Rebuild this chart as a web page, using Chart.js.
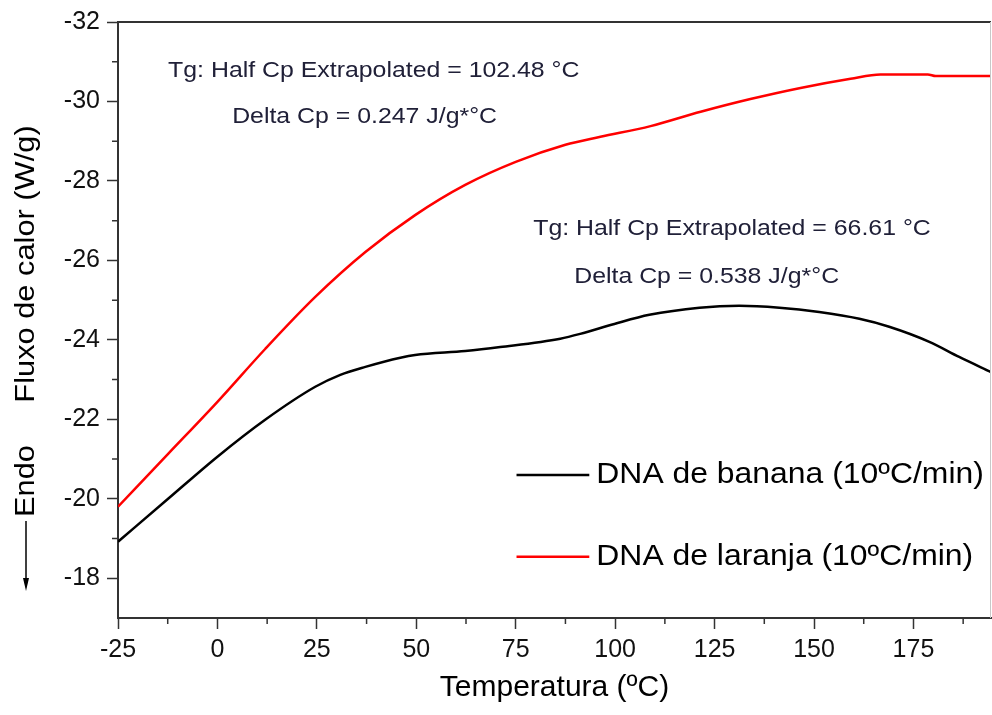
<!DOCTYPE html>
<html>
<head>
<meta charset="utf-8">
<script src="https://cdn.jsdelivr.net/npm/chart.js@4.4.1/dist/chart.umd.min.js"></script>
<style>
  html, body { margin: 0; padding: 0; background: #fff; }
  #wrap { width: 992px; height: 715px; }
</style>
</head>
<body>
<div id="wrap"><canvas id="dsc"></canvas></div>
<script>
// DSC curves (temperature in ºC, heat flow in W/g)
const tempBanana = [-25, -12.4, 0, 12, 24.6, 30.9, 37.2, 46, 49.7, 62.3, 71.1, 86.2, 91.2, 99.8, 108.6, 121.2, 131.2, 141.3, 151.3, 161.4, 168.9, 179, 186.5, 194.5]
const fluxBanana = [-18.92, -20.0, -21.06, -21.99, -22.82, -23.12, -23.32, -23.55, -23.62, -23.72, -23.82, -24.03, -24.15, -24.4, -24.63, -24.81, -24.86, -24.81, -24.7, -24.53, -24.33, -23.95, -23.57, -23.19]

const tempLaranja = [-25, -12.4, 0, 12, 24.6, 37.2, 49.7, 62.3, 75, 87.5, 96.3, 108.9, 121.5, 134, 146.6, 159.2, 166.7, 178.6, 180.6, 194.5]
const fluxLaranja = [-19.8, -21.13, -22.44, -23.77, -25.08, -26.21, -27.14, -27.9, -28.48, -28.91, -29.11, -29.38, -29.74, -30.06, -30.34, -30.57, -30.68, -30.68, -30.64, -30.64]

const seriesNames = ['DNA de banana (10ºC/min)', 'DNA de laranja (10ºC/min)']
const seriesColors = ['#000000', '#ff0000']

const xTicks = [-25, 0, 25, 50, 75, 100, 125, 150, 175]
const xMinorTicks = [-12.5, 12.5, 37.5, 62.5, 87.5, 112.5, 137.5, 162.5, 187.5]
const yTicks = [-32, -30, -28, -26, -24, -22, -20, -18]
const yMinorTicks = [-31, -29, -27, -25, -23, -21, -19]

// annotation texts, placed in data units [x, y]
const notes = [
    { text: 'Tg: Half Cp Extrapolated = 102.48 °C', at: [-12.4, -30.78] },
    { text: 'Delta Cp = 0.247 J/g*°C', at: [3.7, -29.62] },
    { text: 'Tg: Half Cp Extrapolated = 66.61 °C', at: [79.4, -26.8] },
    { text: 'Delta Cp = 0.538 J/g*°C', at: [89.7, -25.58] }
]

function toPoints(xs, ys) {
    let pts = []
    for (let i = 0; i < xs.length; i++) {
        pts.push({ x: xs[i], y: ys[i] })
    }
    return pts
}

function stretchedText(ctx, text, x, y, font, sx, color, align) {
    ctx.save()
    ctx.translate(x, y)
    ctx.scale(sx, 1)
    ctx.font = font
    ctx.fillStyle = color
    ctx.textAlign = align || 'left'
    ctx.textBaseline = 'middle'
    ctx.fillText(text, 0, 0)
    ctx.restore()
}

const decorations = {
    id: 'decorations',
    afterDraw(chart) {
        const ctx = chart.ctx
        const area = chart.chartArea
        const xs = chart.scales.x
        const ys = chart.scales.y

        // frame: top dark, right light
        ctx.save()
        ctx.strokeStyle = '#333'
        ctx.lineWidth = 2
        ctx.beginPath()
        ctx.moveTo(area.left, area.top)
        ctx.lineTo(area.right, area.top)
        ctx.stroke()
        ctx.strokeStyle = '#c8c8c8'
        ctx.lineWidth = 1
        ctx.beginPath()
        ctx.moveTo(area.right - 0.5, area.top)
        ctx.lineTo(area.right - 0.5, area.bottom)
        ctx.stroke()

        // minor ticks
        ctx.strokeStyle = '#333'
        ctx.lineWidth = 1.5
        ctx.beginPath()
        yMinorTicks.forEach(v => {
            const py = ys.getPixelForValue(v)
            ctx.moveTo(area.left - 6, py)
            ctx.lineTo(area.left, py)
        })
        xMinorTicks.forEach(v => {
            const px = xs.getPixelForValue(v)
            ctx.moveTo(px, area.bottom)
            ctx.lineTo(px, area.bottom + 6)
        })
        ctx.stroke()
        ctx.restore()

        // annotations
        notes.forEach(n => {
            stretchedText(ctx, n.text, xs.getPixelForValue(n.at[0]), ys.getPixelForValue(n.at[1]),
                '22px "Liberation Sans", Arial, sans-serif', 1.13, '#202038')
        })

        // legend inside the plot
        const legendRows = [-20.6, -18.54]
        chart.data.datasets.forEach((ds, i) => {
            const py = ys.getPixelForValue(legendRows[i])
            const x0 = xs.getPixelForValue(75.2)
            const x1 = xs.getPixelForValue(93.5)
            ctx.save()
            ctx.strokeStyle = ds.borderColor
            ctx.lineWidth = 2.5
            ctx.beginPath()
            ctx.moveTo(x0, py)
            ctx.lineTo(x1, py)
            ctx.stroke()
            ctx.restore()
            stretchedText(ctx, ds.label, x1 + 7, py, '29px "Liberation Sans", Arial, sans-serif', 1.1, '#000')
        })

        // y axis title with Endo arrow
        ctx.save()
        ctx.translate(26, 0)
        ctx.rotate(-Math.PI / 2)
        ctx.scale(1.1, 1)
        ctx.font = '28px "Liberation Sans", Arial, sans-serif'
        ctx.fillStyle = '#000'
        ctx.textAlign = 'center'
        ctx.textBaseline = 'middle'
        ctx.fillText('Fluxo de calor (W/g)', -264 / 1.1, 0)
        ctx.fillText('Endo', -481 / 1.1, 0)
        ctx.restore()

        ctx.save()
        ctx.strokeStyle = '#000'
        ctx.fillStyle = '#000'
        ctx.lineWidth = 1.5
        ctx.beginPath()
        ctx.moveTo(26, 521)
        ctx.lineTo(26, 580)
        ctx.stroke()
        ctx.beginPath()
        ctx.moveTo(23, 578)
        ctx.lineTo(29, 578)
        ctx.lineTo(26, 591)
        ctx.closePath()
        ctx.fill()
        ctx.restore()
    }
}

function makeChart() {
    const ctx = document.getElementById('dsc')
    const tickFont = { family: '"Liberation Sans", Arial, sans-serif', size: 25 }

    new Chart(ctx, {
        type: 'line',
        data: {
            datasets: [{
                label: seriesNames[0],
                data: toPoints(tempBanana, fluxBanana),
                borderColor: seriesColors[0],
                borderWidth: 2.5,
                pointRadius: 0,
                cubicInterpolationMode: 'monotone'
            }, {
                label: seriesNames[1],
                data: toPoints(tempLaranja, fluxLaranja),
                borderColor: seriesColors[1],
                borderWidth: 2.5,
                pointRadius: 0,
                cubicInterpolationMode: 'monotone'
            }]
        },
        options: {
            responsive: true,
            maintainAspectRatio: false,
            animation: false,
            layout: { padding: { top: 20, right: 1, left: 0, bottom: 0 } },
            plugins: {
                legend: { display: false },
                tooltip: { enabled: false }
            },
            scales: {
                x: {
                    type: 'linear',
                    min: -25,
                    max: 194.5,
                    afterBuildTicks: scale => { scale.ticks = xTicks.map(v => ({ value: v })) },
                    afterFit: scale => { scale.height = 97 },
                    grid: { drawOnChartArea: false, tickLength: 11, tickColor: '#333', tickWidth: 1.5 },
                    border: { color: '#333', width: 2 },
                    ticks: { font: tickFont, color: '#111', padding: 6, maxRotation: 0 },
                    title: {
                        display: true,
                        text: 'Temperatura (ºC)',
                        color: '#000',
                        font: { family: '"Liberation Sans", Arial, sans-serif', size: 30 },
                        padding: { top: 0, bottom: 9 }
                    }
                },
                y: {
                    type: 'linear',
                    reverse: true,
                    min: -32,
                    max: -17,
                    afterBuildTicks: scale => { scale.ticks = yTicks.map(v => ({ value: v })) },
                    afterFit: scale => { scale.width = 118 },
                    grid: { drawOnChartArea: false, tickLength: 11, tickColor: '#333', tickWidth: 1.5 },
                    border: { color: '#333', width: 2 },
                    ticks: { font: tickFont, color: '#111', padding: 7 }
                }
            }
        },
        plugins: [decorations]
    })
}

makeChart()
</script>
</body>
</html>
